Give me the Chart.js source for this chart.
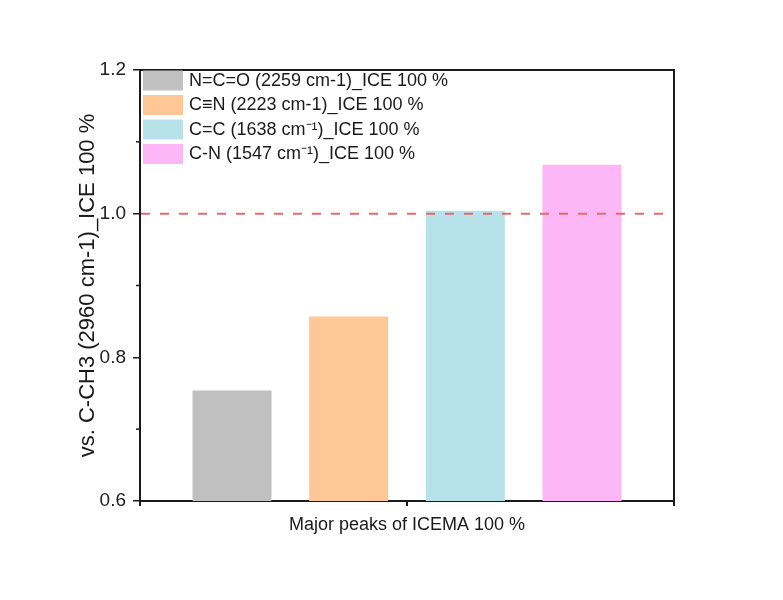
<!DOCTYPE html>
<html>
<head>
<meta charset="utf-8">
<script src="https://cdn.jsdelivr.net/npm/chart.js@4"></script>
<style>
  html, body { margin: 0; padding: 0; background: #ffffff; }
  canvas { display: block; }
</style>
</head>
<body>
<canvas id="c" width="783" height="600"></canvas>
<script>
// ---- data ----
const categories = [''];
const seriesLabels = [
  'N=C=O (2259 cm-1)_ICE 100 %',
  'C\u2261N (2223 cm-1)_ICE 100 %',
  'C=C (1638 cm\u207B\u00B9)_ICE 100 %',
  'C-N (1547 cm\u207B\u00B9)_ICE 100 %'
];
const seriesValues = [0.754, 0.857, 1.004, 1.068];
const seriesColors = ['#c0c0c0', '#fdc896', '#b8e2ea', '#fdb6f6'];
const yMajorTicks = [0.6, 0.8, 1.0, 1.2];
const referenceValue = 1.0;
const xTitle = 'Major peaks of ICEMA 100 %';
const yTitle = 'vs. C-CH3 (2960 cm-1)_ICE 100 %';

const FONT = '"Liberation Sans", Arial, sans-serif';
const INK = '#1a1a1a';

const decorPlugin = {
  id: 'decor',
  afterDatasetsDraw(chart) {
    const {ctx, chartArea: a, scales: {x, y}} = chart;
    ctx.save();
    // reference dashed line
    const ry = y.getPixelForValue(referenceValue);
    ctx.strokeStyle = 'rgb(226,108,108)';
    ctx.lineWidth = 2;
    ctx.setLineDash([9, 10]);
    ctx.beginPath();
    ctx.moveTo(a.left + 1, ry);
    ctx.lineTo(a.right - 6, ry);
    ctx.stroke();
    ctx.setLineDash([]);
    // top and right frame
    ctx.strokeStyle = INK;
    ctx.lineWidth = 2;
    ctx.beginPath();
    ctx.moveTo(a.left, a.top);
    ctx.lineTo(a.right, a.top);
    ctx.lineTo(a.right, a.bottom + 4);
    ctx.stroke();
    // middle x tick
    const mx = x.getPixelForValue(0);
    ctx.beginPath();
    ctx.moveTo(mx, a.bottom);
    ctx.lineTo(mx, a.bottom + 5);
    ctx.stroke();
    // minor y ticks (shorter)
    ctx.lineWidth = 1.5;
    y.ticks.forEach(t => {
      if (!yMajorTicks.some(v => Math.abs(v - t.value) < 1e-6)) {
        const py = y.getPixelForValue(t.value);
        ctx.beginPath();
        ctx.moveTo(a.left - 4, py);
        ctx.lineTo(a.left, py);
        ctx.stroke();
      }
    });
    // legend (inside plot, top-left)
    ctx.font = '18px ' + FONT;
    ctx.textBaseline = 'middle';
    ctx.textAlign = 'left';
    chart.data.datasets.forEach((ds, i) => {
      const by = a.top + 0.5 + i * 24.5;
      ctx.fillStyle = ds.backgroundColor;
      ctx.fillRect(a.left + 3, by, 40, 20);
      ctx.fillStyle = INK;
      ctx.fillText(ds.label, a.left + 49, by + 10.5);
    });
    ctx.restore();
  }
};

new Chart(document.getElementById('c'), {
  type: 'bar',
  data: {
    labels: categories,
    datasets: seriesLabels.map((label, i) => ({
      label,
      data: [seriesValues[i]],
      backgroundColor: seriesColors[i],
      borderWidth: 0,
      categoryPercentage: 0.874,
      barPercentage: 0.677
    }))
  },
  options: {
    responsive: false,
    animation: false,
    layout: { padding: { top: 70, right: 109, left: 0, bottom: 0 } },
    plugins: { legend: { display: false }, tooltip: { enabled: false } },
    scales: {
      x: {
        offset: true,
        grid: { offset: true, drawOnChartArea: false, tickLength: 5, color: INK, lineWidth: 2 },
        border: { display: true, color: INK, width: 2 },
        ticks: { display: false },
        title: { display: true, text: xTitle, color: INK, font: { family: FONT, size: 18 }, padding: { top: 0, bottom: 64 } },
        afterFit(s) { s.height = 99; }
      },
      y: {
        min: 0.6,
        max: 1.2,
        ticks: {
          stepSize: 0.1,
          color: '#222',
          font: { family: FONT, size: 19 },
          padding: 7,
          callback(v) {
            return yMajorTicks.some(m => Math.abs(m - v) < 1e-6) ? Number(v).toFixed(1) : '';
          }
        },
        grid: {
          drawOnChartArea: false,
          tickLength: 7,
          lineWidth: 1.5,
          color: INK,
          tickColor: (c) => (c.tick && yMajorTicks.some(m => Math.abs(m - c.tick.value) < 1e-6)) ? INK : 'rgba(0,0,0,0)'
        },
        border: { display: true, color: INK, width: 2 },
        title: { display: true, text: yTitle, color: INK, font: { family: FONT, size: 22 }, padding: { top: 75, bottom: 0 } },
        afterFit(s) { s.width = 140; }
      }
    }
  },
  plugins: [decorPlugin]
});
</script>
</body>
</html>
